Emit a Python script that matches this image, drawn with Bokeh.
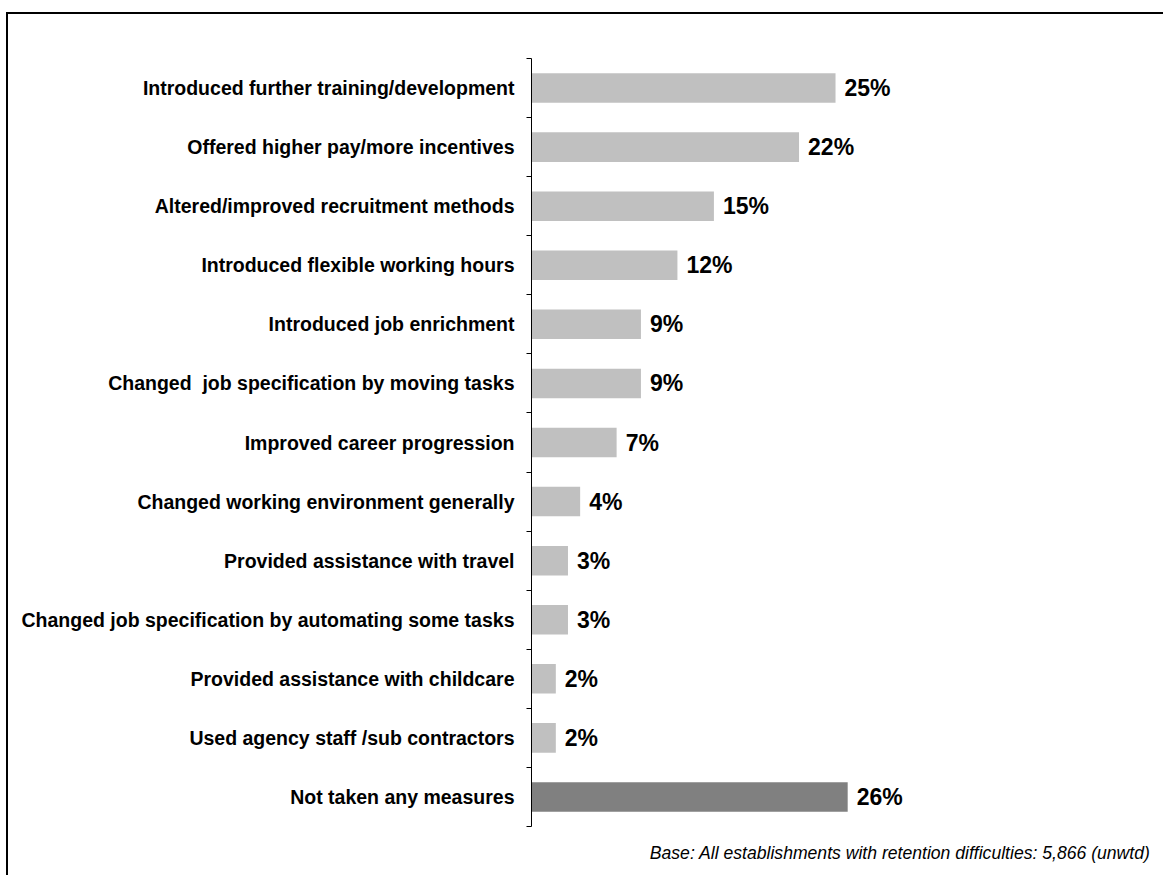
from bokeh.plotting import figure
from bokeh.models import ColumnDataSource, Range1d, FixedTicker, Title
from bokeh.core.properties import value
from bokeh.embed import file_html
from bokeh.resources import INLINE

categories = [
    "Introduced further training/development",
    "Offered higher pay/more incentives",
    "Altered/improved recruitment methods",
    "Introduced flexible working hours",
    "Introduced job enrichment",
    "Changed\u00a0 job specification by moving tasks",
    "Improved career progression",
    "Changed working environment generally",
    "Provided assistance with travel",
    "Changed job specification by automating some tasks",
    "Provided assistance with childcare",
    "Used agency staff /sub contractors",
    "Not taken any measures",
]
values = [25, 22, 15, 12, 9, 9, 7, 4, 3, 3, 2, 2, 26]
footnote = "Base: All establishments with retention difficulties: 5,866 (unwtd)"

n = len(categories)
ys = [n - 1 - i for i in range(n)]
colors = ["#808080" if c == "Not taken any measures" else "#C0C0C0" for c in categories]
labels = [f"{v}%" for v in values]

src = ColumnDataSource(dict(y=ys, value=values, color=colors, label=labels))

FONT = "Liberation Sans"

p = figure(
    width=1157, height=863,
    x_range=Range1d(0, 50.9), y_range=Range1d(-0.5, n - 0.5),
    output_backend="svg", toolbar_location=None,
    min_border_left=523, min_border_right=15, min_border_top=44, min_border_bottom=50,
)
p.styles = {"border-left": "2px solid black", "border-top": "2px solid black",
            "margin-left": "6px", "margin-top": "12px"}
p.outline_line_color = None
p.xgrid.visible = False
p.ygrid.visible = False
p.xaxis.visible = False

p.hbar(y="y", right="value", left=0, height=0.5, fill_color="color", line_color=None, source=src)
p.text(x="value", y="y", text="label", x_offset=9, text_baseline="middle", text_align="left",
       text_font=value(FONT), text_font_style="bold", text_font_size="23px", text_color="black",
       source=src)

ya = p.yaxis[0]
ya.ticker = FixedTicker(ticks=ys, minor_ticks=[k - 0.5 for k in range(n + 1)])
ya.major_label_overrides = {y: c for y, c in zip(ys, categories)}
ya.major_tick_out = 0
ya.major_tick_in = 0
ya.minor_tick_out = 5
ya.minor_tick_in = 0
ya.minor_tick_line_color = "black"
ya.axis_line_color = "black"
ya.major_label_standoff = 12
ya.major_label_text_font = FONT
ya.major_label_text_font_style = "bold"
ya.major_label_text_font_size = "19.5px"
ya.major_label_text_color = "black"

p.add_layout(Title(text=footnote, align="right", standoff=29,
                   text_font=FONT, text_font_style="italic", text_font_size="17.6px",
                   text_color="black"), "below")

open("out.html", "w").write(file_html(p, INLINE))
